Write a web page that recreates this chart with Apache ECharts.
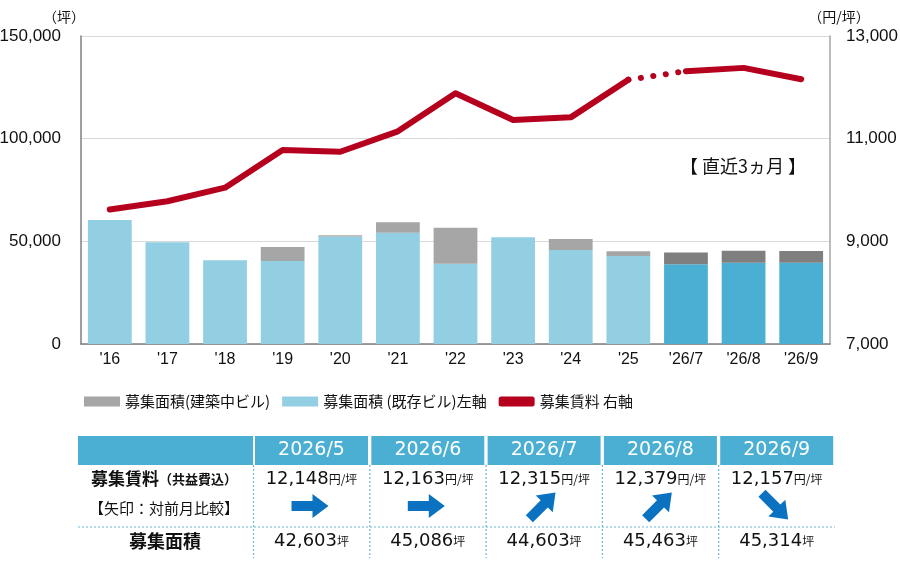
<!DOCTYPE html>
<html>
<head>
<meta charset="utf-8">
<script src="https://cdn.jsdelivr.net/npm/echarts@6/dist/echarts.min.js"></script>
<style>
  html, body { margin: 0; padding: 0; background: #fff; }
  #chart { width: 900px; height: 563px; }
</style>
</head>
<body>
<div id="chart"></div>
<script>
  // categories / values
  const years = ["'16", "'17", "'18", "'19", "'20", "'21", "'22", "'23", "'24", "'25", "'26/7", "'26/8", "'26/9"]
  const existing = [60400, 49500, 40750, 40400, 52400, 54200, 39100, 51950, 45780, 42860, 38800, 39600, 39600]
  const building = [0, 0, 0, 6840, 600, 5070, 17550, 0, 5350, 2280, 5803, 5863, 5714]
  const rent = [9620, 9780, 10045, 10780, 10746, 11143, 11883, 11363, 11415, 12148, 12315, 12379, 12157]
  const leftTicks = [0, 50000, 100000, 150000]
  const rightTicks = [7000, 9000, 11000, 13000]
  // table below
  const months = ['2026/5', '2026/6', '2026/7', '2026/8', '2026/9']
  const monthRent = [12148, 12163, 12315, 12379, 12157]
  const monthArea = [42603, 45086, 44603, 45463, 45314]
  const trendAngle = [0, 0, 45, 45, -45] // 矢印の向き（度）

  const recent = 10 // '26/7 以降は濃い色
  const jp = "'Noto Sans CJK JP', sans-serif"
  const num = "'Liberation Sans', sans-serif"
  const fmt = v => v.toLocaleString('en-US')

  const chart = echarts.init(document.getElementById('chart'))

  // 折れ線：実線（〜'25）、点線（'25→'26/7）、実線（'26/7〜）
  const rentA = rent.map((v, i) => i <= 9 ? v : null)
  const rentB = rent.map((v, i) => i >= recent ? v : null)
  const rentDot = rent.map((v, i) => (i === 9 || i === recent) ? v : null)

  const lineStyle = { color: '#B5001E', width: 6, cap: 'round', join: 'round' }

  // table graphics
  const tbl = []
  const colX0 = 255, colW = 113, colStep = 116.3
  const hTop = 436, hH = 29
  tbl.push({ type: 'rect', shape: { x: 78, y: hTop, width: 175, height: hH }, style: { fill: '#4BAFD3' } })
  months.forEach((m, i) => {
    const x = colX0 + i * colStep
    const cx = x + colW / 2
    tbl.push({ type: 'rect', shape: { x: x, y: hTop, width: colW, height: hH }, style: { fill: '#4BAFD3' } })
    tbl.push({ type: 'text', x: cx, y: hTop + hH / 2, style: { text: m, fill: '#fff', font: "19px 'DejaVu Sans', sans-serif", align: 'center', verticalAlign: 'middle' } })
    tbl.push({
      type: 'text', x: cx, y: 479,
      style: {
        text: '{n|' + fmt(monthRent[i]) + '}{u|円/坪}', align: 'center', verticalAlign: 'middle',
        rich: {
          n: { fontSize: 18, fontFamily: "'DejaVu Sans', sans-serif", fill: '#111' },
          u: { fontSize: 12, fontFamily: jp, fill: '#111' }
        }
      }
    })
    tbl.push({
      type: 'text', x: cx, y: 541,
      style: {
        text: '{n|' + fmt(monthArea[i]) + '}{u|坪}', align: 'center', verticalAlign: 'middle',
        rich: {
          n: { fontSize: 18, fontFamily: "'DejaVu Sans', sans-serif", fill: '#111' },
          u: { fontSize: 12, fontFamily: jp, fill: '#111' }
        }
      }
    })
    tbl.push({
      type: 'polygon', x: cx - 2, y: 506, rotation: trendAngle[i] * Math.PI / 180,
      shape: { points: [[-18, -5], [3, -5], [3, -12], [19, 0], [3, 12], [3, 5], [-18, 5]] },
      style: { fill: '#0A72C0' }
    })
    tbl.push({ type: 'line', shape: { x1: x - 1.5, y1: hTop + hH, x2: x - 1.5, y2: 558 }, style: { stroke: '#6BB8D6', lineWidth: 1.2, lineDash: [2, 2] } })
  })
  tbl.push({ type: 'line', shape: { x1: 78, y1: 527, x2: 835, y2: 527 }, style: { stroke: '#6BB8D6', lineWidth: 1.2, lineDash: [2, 2] } })
  tbl.push({
    type: 'text', x: 164, y: 479,
    style: {
      text: '{a|募集賃料}{b|（共益費込）}', align: 'center', verticalAlign: 'middle',
      rich: {
        a: { fontSize: 17, fontWeight: 'bold', fontFamily: jp, fill: '#111' },
        b: { fontSize: 13, fontWeight: 'bold', fontFamily: jp, fill: '#111' }
      }
    }
  })
  tbl.push({ type: 'text', x: 164, y: 508, style: { text: '【矢印：対前月比較】', font: '15px ' + jp, fill: '#111', align: 'center', verticalAlign: 'middle' } })
  tbl.push({ type: 'text', x: 165, y: 541, style: { text: '募集面積', font: 'bold 18px ' + jp, fill: '#111', align: 'center', verticalAlign: 'middle' } })
  tbl.push({ type: 'text', x: 743, y: 166, style: { text: '【 直近3ヵ月 】', font: '18px ' + jp, fill: '#111', align: 'center', verticalAlign: 'middle' } })

  chart.setOption({
    animation: false,
    grid: { left: 81, right: 70, top: 36, bottom: 219, outerBoundsMode: 'none', containLabel: false },
    legend: {
      left: 79, top: 389,
      itemWidth: 36, itemHeight: 10, itemGap: 12,
      textStyle: { fontSize: 15, fontFamily: jp, color: '#111' },
      data: [
        { name: '募集面積(建築中ビル)', icon: 'rect' },
        { name: '募集面積 (既存ビル)左軸', icon: 'rect' },
        { name: '募集賃料 右軸', icon: 'roundRect', itemStyle: { color: '#B5001E' } }
      ]
    },
    xAxis: {
      type: 'category',
      data: years,
      axisLine: { lineStyle: { color: '#7F7F7F', width: 1.5 } },
      axisTick: { show: false },
      axisLabel: { fontSize: 16, fontFamily: num, color: '#111', margin: 8 }
    },
    yAxis: [
      {
        type: 'value', min: leftTicks[0], max: leftTicks[leftTicks.length - 1], interval: 50000,
        name: '（坪）', nameGap: 12,
        nameTextStyle: { fontSize: 14, fontFamily: jp, color: '#111', align: 'center', padding: [0, 34, 0, 0] },
        axisLine: { show: true, lineStyle: { color: '#7F7F7F', width: 1.5 } },
        axisTick: { show: false },
        axisLabel: { fontSize: 17, fontFamily: num, color: '#111', margin: 20, formatter: v => fmt(v) },
        splitLine: { lineStyle: { color: '#D9D9D9', width: 1 } }
      },
      {
        type: 'value', min: rightTicks[0], max: rightTicks[rightTicks.length - 1], interval: 2000,
        name: '（円/坪）', nameGap: 12,
        nameTextStyle: { fontSize: 14, fontFamily: jp, color: '#111', align: 'center', padding: [0, 0, 0, 18] },
        axisLine: { show: true, lineStyle: { color: '#A6A6A6', width: 1.5 } },
        axisTick: { show: false },
        axisLabel: { fontSize: 17, fontFamily: num, color: '#111', margin: 16, formatter: v => fmt(v) },
        splitLine: { show: false }
      }
    ],
    series: [
      {
        name: '募集面積 (既存ビル)左軸', type: 'bar', stack: 'area', barWidth: '76%',
        itemStyle: { color: '#93CFE2' },
        data: existing.map((v, i) => i >= recent ? { value: v, itemStyle: { color: '#4BAFD3' } } : v)
      },
      {
        name: '募集面積(建築中ビル)', type: 'bar', stack: 'area', barWidth: '76%',
        itemStyle: { color: '#A6A6A6' },
        data: building.map((v, i) => i >= recent ? { value: v, itemStyle: { color: '#7F7F7F' } } : v)
      },
      {
        name: '募集賃料 右軸', type: 'line', yAxisIndex: 1, symbol: 'none', z: 5,
        itemStyle: { color: '#B5001E' }, lineStyle: lineStyle, data: rentA
      },
      {
        name: '募集賃料 右軸', type: 'line', yAxisIndex: 1, symbol: 'none', z: 5,
        itemStyle: { color: '#B5001E' }, lineStyle: lineStyle, data: rentB
      },
      {
        name: 'rentDot', type: 'line', yAxisIndex: 1, symbol: 'none', z: 4,
        lineStyle: { color: '#B5001E', width: 6, cap: 'round', type: [0.1, 12.5] },
        data: rentDot
      }
    ],
    graphic: tbl
  })
</script>
</body>
</html>
